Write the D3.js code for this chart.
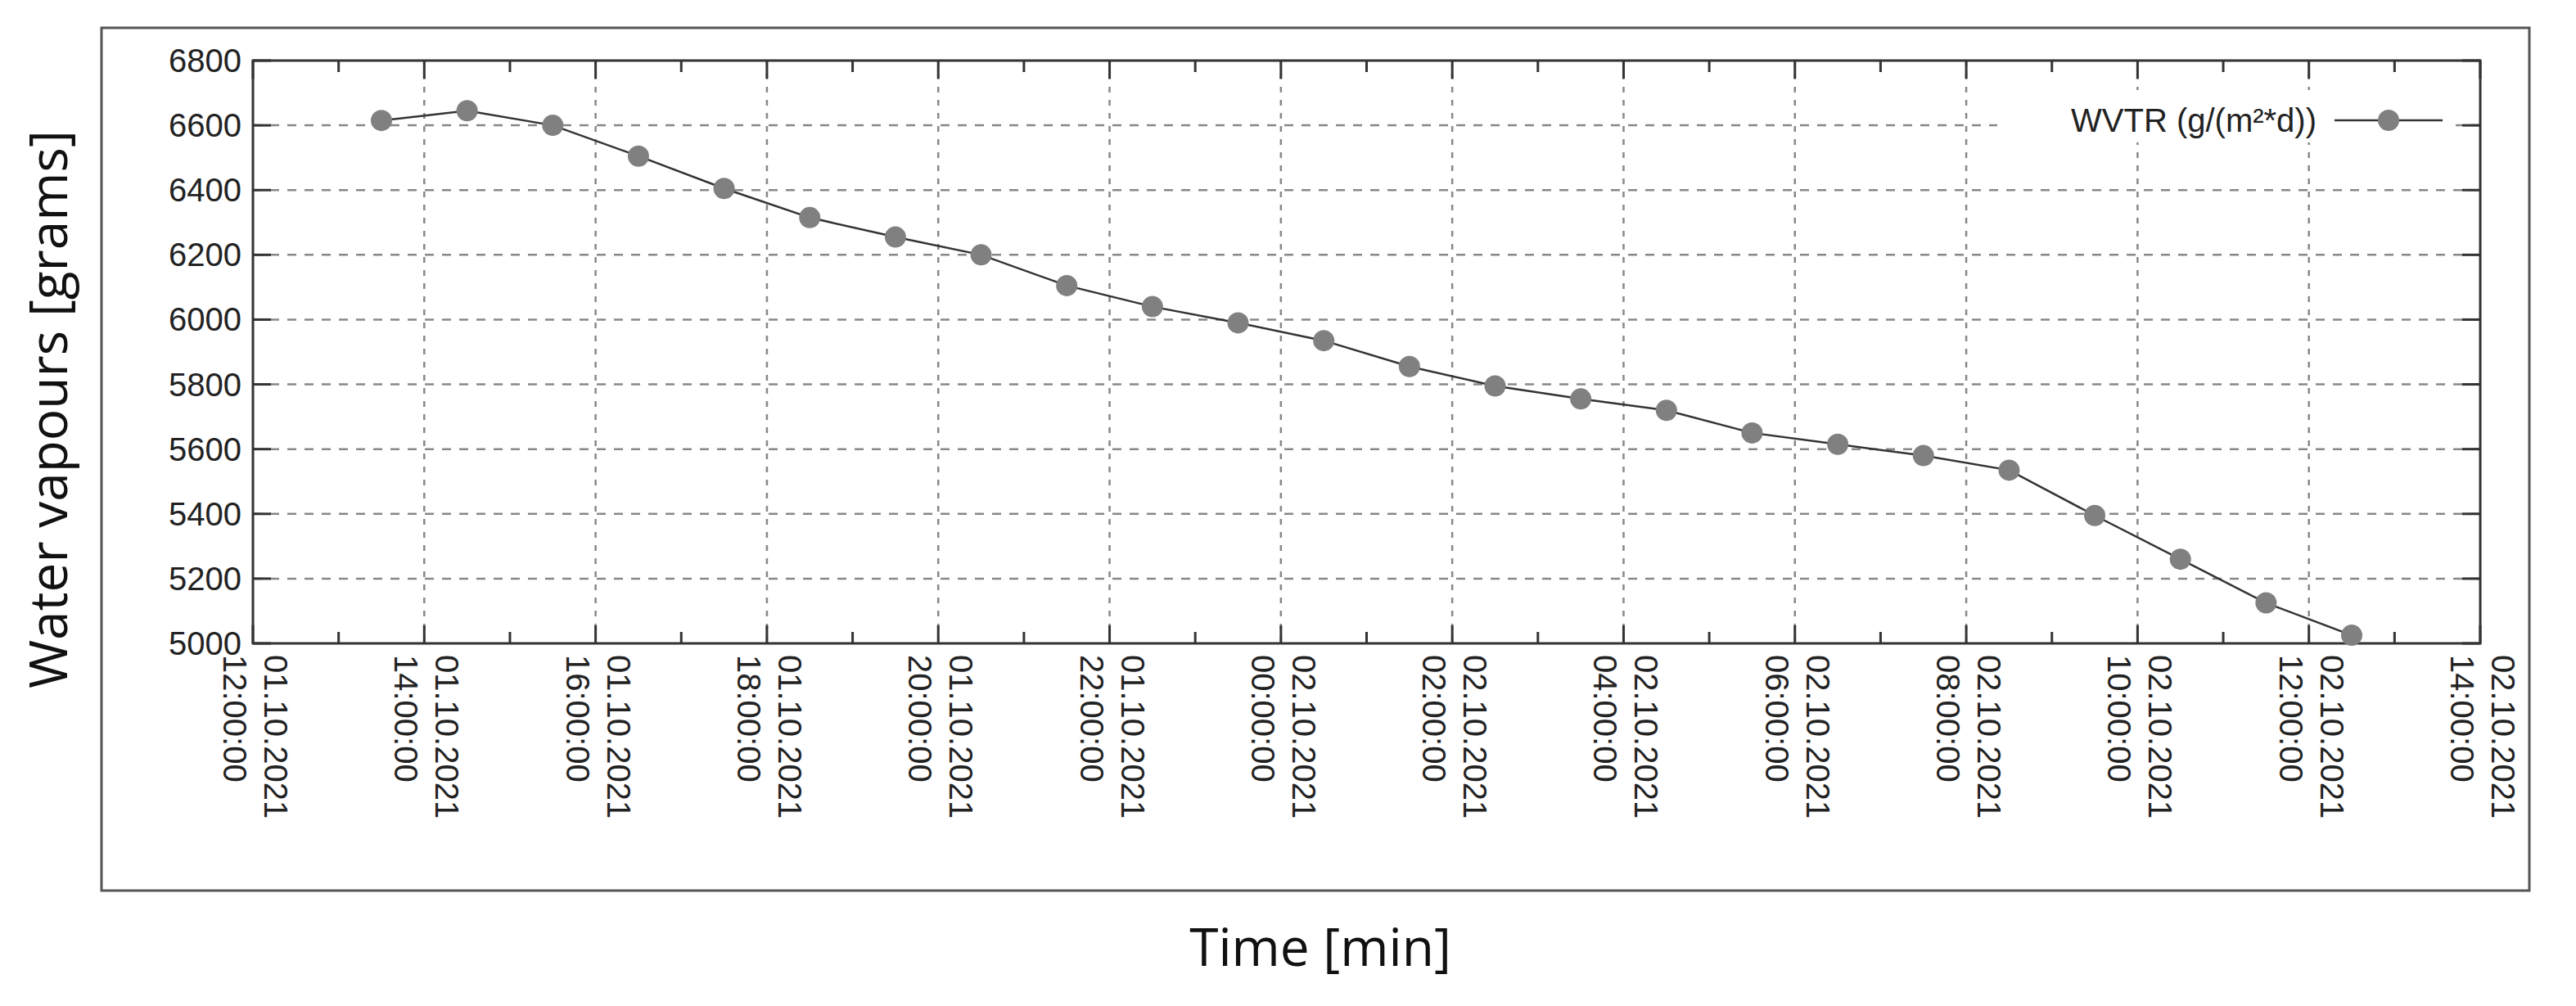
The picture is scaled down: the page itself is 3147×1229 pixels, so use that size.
<!DOCTYPE html>
<html><head><meta charset="utf-8">
<script src="https://cdn.jsdelivr.net/npm/d3@7"></script>
<style>body{margin:0;background:#fff}</style></head>
<body><svg id="c" width="3147" height="1229"></svg>
<script>
const times = ["2021-10-01T13:30","2021-10-01T14:30","2021-10-01T15:30","2021-10-01T16:30","2021-10-01T17:30","2021-10-01T18:30","2021-10-01T19:30","2021-10-01T20:30","2021-10-01T21:30","2021-10-01T22:30","2021-10-01T23:30","2021-10-02T00:30","2021-10-02T01:30","2021-10-02T02:30","2021-10-02T03:30","2021-10-02T04:30","2021-10-02T05:30","2021-10-02T06:30","2021-10-02T07:30","2021-10-02T08:30","2021-10-02T09:30","2021-10-02T10:30","2021-10-02T11:30","2021-10-02T12:30"];
const wvtr = [6615,6645,6600,6505,6405,6315,6255,6200,6105,6040,5990,5935,5855,5795,5755,5720,5650,5615,5580,5535,5395,5260,5125,5025];
const yTicks = [5000,5200,5400,5600,5800,6000,6200,6400,6600,6800];
const seriesName = "WVTR (g/(m²*d))";
const xTitle = "Time [min]", yTitle = "Water vapours [grams]";

const svg = d3.select("#c");
const L=309,R=3030,T=74,B=786;
const parse = d3.timeParse("%Y-%m-%dT%H:%M");
const x = d3.scaleTime().domain([parse("2021-10-01T12:00"),parse("2021-10-02T14:00")]).range([L,R]);
const y = d3.scaleLinear().domain([5000,6800]).range([B,T]);
const major = d3.timeHour.every(2).range(x.domain()[0], d3.timeMinute.offset(x.domain()[1],1));
const minor = d3.timeHour.every(1).range(x.domain()[0], d3.timeMinute.offset(x.domain()[1],1));

svg.append("rect").attr("x",124).attr("y",34).attr("width",2966).attr("height",1054).attr("fill","none").attr("stroke","#555").attr("stroke-width",3);

const g = svg.append("g");
g.selectAll(".gx").data(major.slice(1,-1)).join("line").attr("x1",d=>x(d)).attr("x2",d=>x(d)).attr("y1",T).attr("y2",B).attr("stroke","#888").attr("stroke-width",2.5).attr("stroke-dasharray","7,9");
g.selectAll(".gy").data(yTicks.slice(1,-1)).join("line").attr("x1",L).attr("x2",R).attr("y1",d=>y(d)).attr("y2",d=>y(d)).attr("stroke","#888").attr("stroke-width",2.5).attr("stroke-dasharray","11,10");
const tk = svg.append("g").attr("stroke","#333").attr("stroke-width",3);
minor.forEach(d=>{const big=major.some(m=>+m==+d);const l=big?22:14;
 tk.append("line").attr("x1",x(d)).attr("x2",x(d)).attr("y1",B).attr("y2",B-l);
 tk.append("line").attr("x1",x(d)).attr("x2",x(d)).attr("y1",T).attr("y2",T+l);});
yTicks.forEach(v=>{tk.append("line").attr("x1",L).attr("x2",L+22).attr("y1",y(v)).attr("y2",y(v));
 tk.append("line").attr("x1",R).attr("x2",R-22).attr("y1",y(v)).attr("y2",y(v));});
svg.append("rect").attr("x",L).attr("y",T).attr("width",R-L).attr("height",B-T).attr("fill","none").attr("stroke","#333").attr("stroke-width",3);

svg.append("g").selectAll("text").data(yTicks).join("text").attr("x",L-14).attr("y",d=>y(d)).attr("dy","0.35em").attr("text-anchor","end")
 .attr("font-family","Liberation Sans, Arial").attr("font-size",40).attr("fill","#222").text(d=>d);
const fd=d3.timeFormat("%d.%m.%Y"), ft=d3.timeFormat("%H:%M:%S");
major.forEach(d=>{const t=svg.append("text").attr("transform",`translate(${x(d)+14},${B+14}) rotate(90)`)
 .attr("font-family","Liberation Sans, Arial").attr("font-size",40).attr("fill","#222");
 t.append("tspan").attr("x",0).attr("dy",0).text(fd(d));
 t.append("tspan").attr("x",0).attr("dy",50).text(ft(d));});

svg.append("rect").attr("x",2440).attr("y",110).attr("width",560).attr("height",64).attr("fill","#fff");
svg.append("text").attr("x",2830).attr("y",147).attr("dy","0.35em").attr("text-anchor","end").attr("font-family","Liberation Sans, Arial").attr("font-size",40).attr("fill","#222").text(seriesName);
svg.append("line").attr("x1",2852).attr("x2",2984).attr("y1",147).attr("y2",147).attr("stroke","#333").attr("stroke-width",2.5);
svg.append("circle").attr("cx",2918).attr("cy",147).attr("r",13).attr("fill","#808080");

const pts = times.map((t,i)=>({t:parse(t),v:wvtr[i]}));
svg.append("path").datum(pts).attr("d",d3.line().x(d=>x(d.t)).y(d=>y(d.v))).attr("fill","none").attr("stroke","#333").attr("stroke-width",2.5);
svg.append("g").selectAll("circle").data(pts).join("circle").attr("cx",d=>x(d.t)).attr("cy",d=>y(d.v)).attr("r",13).attr("fill","#808080");

svg.append("text").attr("x",1613).attr("y",1158).attr("dy","0.35em").attr("text-anchor","middle").attr("font-family","Open Sans").attr("font-size",64).attr("fill","#111").text(xTitle);
svg.append("text").attr("transform","translate(60,500) rotate(-90)").attr("dy","0.35em").attr("text-anchor","middle").attr("font-family","Open Sans").attr("font-size",64).attr("fill","#111").text(yTitle);
</script></body></html>
